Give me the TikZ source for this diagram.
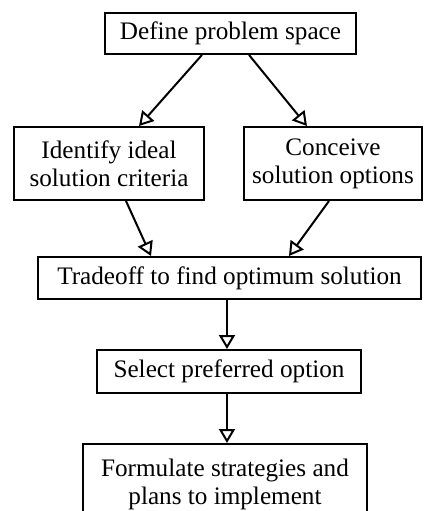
\documentclass[tikz,border=0pt]{standalone}
\usepackage{fontspec}
\setmainfont{Liberation Serif}
\usetikzlibrary{arrows.meta,calc}

\tikzset{
  stepbox/.style={draw, line width=1pt, inner sep=0pt, align=center,
    font=\fontsize{12.6pt}{14pt}\selectfont},
  flow/.style={line width=1pt, -{Triangle[open,length=7pt,width=8pt,line width=1pt]}}
}

\begin{document}
\begin{tikzpicture}[x=0.5pt,y=-0.5pt]
  \useasboundingbox (0,0) rectangle (424,511);
  \clip (0,0) rectangle (424,511);

  % process steps
  \node[stepbox, minimum width=125.5pt, minimum height=20.5pt] (b1) at (230.5,33.4) {Define problem space};
  \node[stepbox, minimum width=95pt, minimum height=36.5pt] (b2) at (109,163.5) {Identify ideal\\solution criteria};
  \node[stepbox, minimum width=89pt, minimum height=36.5pt] (b3) at (333,163.5) {Conceive\\solution options};
  \node[stepbox, minimum width=191.5pt, minimum height=21pt] (b4) at (229.5,278) {Tradeoff to find optimum solution};
  \node[stepbox, minimum width=132pt, minimum height=21.5pt] (b5) at (229,371.5) {Select preferred option};
  \node[stepbox, minimum width=142pt, minimum height=40pt] (b6) at (225,484) {Formulate strategies and\\plans to implement};

  % connectors
  \draw[flow] ($(b1.south west)+(98,0)$) -- ($(b2.north west)+(126,0)$);
  \draw[flow] ($(b1.south west)+(145,0)$) -- ($(b3.north west)+(64,0)$);
  \draw[flow] ($(b2.south west)+(113,0)$) -- ($(b4.north west)+(114,0)$);
  \draw[flow] ($(b3.south west)+(86,0)$) -- ($(b4.north west)+(252,0)$);
  \draw[flow] ($(b4.south west)+(190,0)$) -- ($(b5.north west)+(131,0)$);
  \draw[flow] ($(b5.south west)+(131,0)$) -- ($(b6.north west)+(145,0)$);
\end{tikzpicture}
\end{document}
